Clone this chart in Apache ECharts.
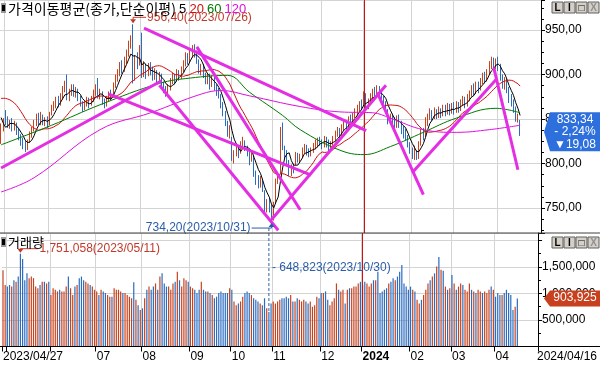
<!DOCTYPE html>
<html>
<head>
<meta charset="utf-8">
<script src="https://cdn.jsdelivr.net/npm/echarts@6.0.0/dist/echarts.min.js"></script>
<style>
html, body { margin: 0; padding: 0; background: #fff; }
#chart { width: 600px; height: 366px; }
</style>
</head>
<body>
<div id="chart"></div>
<script>
// 거래일 달력
const startDate = '2023-04-27';
const endDate = '2024-04-16';
const holidays = ['2023-05-01','2023-05-05','2023-05-29','2023-06-06','2023-08-15','2023-09-28','2023-09-29',
  '2023-10-02','2023-10-03','2023-10-09','2023-12-25','2023-12-29','2024-01-01','2024-02-09','2024-02-12',
  '2024-03-01','2024-04-10'];
const padBars = 9; // 오른쪽 여백 (빈 봉)

// 일봉 [시가, 종가, 저가, 고가]
const apr23 = [[826,840,822,845],[842,846,836,851]];
const may23 = [[856,848,843,860],[850,845,840,853],[842,846,839,849],[848,840,836,851],[841,844,837,848],
  [843,836,832,846],[837,830,826,840],[829,826,820,833],[825,821,816,829],[822,817,813,826],[818,824,815,827],
  [826,832,823,836],[831,838,829,841],[839,845,836,849],[846,850,842,856],[851,847,843,857],[846,852,843,858],
  [851,846,843,855],[847,848,842,852],[849,843,840,853]];
const jun23 = [[845,856,843,858],[858,862,854,866],[863,866,859,870],[866,872,862,875],[871,868,863,876],
  [868,875,865,879],[876,883,872,887],[885,888,880,893],[897,874,871,900],[875,880,870,884],[881,886,876,889],
  [886,879,875,889],[879,882,874,886],[881,874,870,884],[873,868,864,876],[866,862,858,870],[863,867,860,871],
  [868,872,864,875],[871,866,862,874],[867,872,865,876],[873,878,869,883]];
const jul23 = [[880,885,876,889],[893,876,873,896],[877,880,872,884],[878,870,866,881],[869,866,862,873],
  [867,872,864,876],[873,878,869,881],[879,875,871,883],[877,888,874,891],[889,896,885,900],[897,902,892,906],
  [903,910,898,914],[911,906,901,916],[907,915,903,920],[916,922,912,928],[924,932,920,938],[934,940,929,944],
  [942,895,890,956.4],[897,916,893,922],[918,912,906,925],[913,928,910,933]];
const aug23 = [[944,902,896,947],[903,910,897,915],[908,900,895,912],[902,908,898,913],[909,904,899,914],
  [905,898,893,909],[899,903,894,907],[902,895,890,905],[896,899,891,903],[898,890,886,901],[889,884,879,892],
  [883,880,875,887],[881,885,876,889],[886,892,882,896],[893,898,889,902],[897,894,889,901],[895,902,892,906],
  [901,897,893,905],[898,905,895,909],[906,912,902,916],[913,920,909,925],[919,916,911,924]];
const sep23 = [[917,923,913,928],[924,928,919,933],[929,925,919,934],[924,916,912,927],[915,905,901,917],
  [904,908,899,912],[909,900,896,912],[899,893,889,902],[894,897,889,901],[898,890,883,901],[891,895,886,899],
  [894,886,882,897],[885,880,876,889],[881,877,873,885],[875,866,862,878],[866,858,853,869],[856,846,842,859],
  [845,835,830,848],[836,840,828,843]];
const oct23 = [[828,806,803,830],[805,810,800,815],[812,818,808,821],[815,812,806,820],[814,822,811,825],
  [824,826,819,830],[823,818,814,826],[817,812,808,820],[813,805,798,816],[806,810,802,813],[807,790,785,809],
  [789,784,776,792],[783,777,772,787],[776,782,773,786],[780,772,768,783],[768,748,744,770],[750,756,745,760],
  [757,752,745,762],[750,742,734.2,754]];
const nov23 = [[740,753,736,757],[756,781,755,783],[783,784,777,788],[790,839,788,841],[842,818,815,846],
  [816,811,806,820],[812,803,798,815],[801,789,786,804],[790,795,786,799],[796,793,789,800],[800,810,798,813],
  [809,805,801,812],[806,808,801,811],[809,815,806,818],[816,819,812,822],[818,813,809,821],[814,811,807,817],
  [812,815,808,818],[816,820,812,823],[821,824,816,827],[823,826,818,829],[827,825,820,830]];
const dec23 = [[824,820,816,827],[822,828,818,831],[827,823,818,830],[824,818,814,827],[817,822,813,825],
  [823,828,820,831],[829,833,825,837],[834,838,830,841],[836,832,828,840],[834,840,831,844],[841,846,837,850],
  [846,843,838,849],[844,850,840,853],[851,848,843,855],[847,854,844,857],[854,858,851,862],[858,862,854,866],
  [862,866,858,870],[867,866,860,872]];
const jan24 = [[868,878,865,881],[876,866,862,879],[865,870,861,873],[871,876,867,879],[877,880,872,884],
  [881,878,873,886],[879,884,875,888],[883,880,874,887],[879,872,868,882],[873,868,864,876],[867,860,856,870],
  [858,848,844,861],[849,852,844,856],[853,846,841,856],[848,844,838,852],[845,850,840,854],[851,846,840,855],
  [845,838,833,848],[839,835,828,842],[836,830,826,839],[829,822,818,832],[821,815,811,824]];
const feb24 = [[814,810,805,818],[809,812,804,820],[811,808,804,815],[808,822,805,825],[823,836,820,839],
  [835,833,826,840],[832,848,830,852],[847,852,842,856],[853,857,849,862],[856,853,848,860],[854,859,850,863],
  [858,855,850,861],[856,860,851,864],[859,856,851,862],[857,862,853,866],[862,858,853,866],[859,862,855,868],
  [863,859,854,867],[860,864,856,868]];
const mar24 = [[865,860,855,869],[861,866,857,870],[865,862,857,869],[863,868,859,872],[869,872,865,876],
  [871,866,862,875],[867,874,864,878],[875,878,870,882],[879,884,875,888],[885,880,876,890],[881,888,878,892],
  [887,884,879,892],[885,892,882,896],[893,898,889,902],[899,895,890,903],[896,903,892,906],[904,910,900,915],
  [911,915,906,920],[914,910,905,919],[911,914,906,918]];
const apr24 = [[915,910,904,920],[909,898,893,912],[897,889,884,900],[888,893,883,897],[892,884,879,895],
  [883,874,868,886],[875,870,864,878],[869,862,857,872],[861,852,847,864],[850,852.42,846,856],[848,833.34,831,849]];

// 이평 계산용 직전 종가 (19일)
const priorCloses = [845,850,858,866,872,880,890,895,900,898,902,895,890,885,880,878,870,840,830];

// 60일, 120일 이평 (차트에서 읽은 값: [봉 번호, 값])
const ma60Points = [[0,821],[23,843],[45,866],[72,890],[86,896],[103,899],[113,880],[128,854],[136,838],
  [154,815],[165,810],[177,819],[192,835],[207,851],[225,862],[236,857]];
const ma120Points = [[0,768],[15,784],[45,838],[68,857],[91,878],[100,882],[113,876],[136,864],[154,858],
  [169,857],[177,851],[192,838],[207,835],[222,838],[236,843]];

// 거래량 (천주)
const volumes = [1440,1160,1130,1160,1130,1250,1220,1320,1751.058,1650,
  1250,1380,1290,1320,1290,1130,1100,1160,1220,1220, 1190,1220,970,1100,1070,1040,1070,1040,1040,1130,
  1320,1100,970,1130,1160,1290,1320,1250,1220,1190, 1160,1130,1070,1040,970,1070,1040,1010,970,940,
  940,1100,1070,1070,1040,1010,1010,970,940,910, 1210,880,780,690,720,910,1070,1130,1070,1130,
  1190,1070,1320,1380,1190,1130,1130,1070,1190,1220, 1410,1250,1130,1290,1250,1220,1130,1100,1070,1010,
  1070,1220,1070,1040,1040,1010,970,910,940,1010, 1040,1010,1010,1010,1100,1070,850,780,810,850,
  940,1010,1040,1010,970,910,880,850,810,780, 910,720,648.823,810,850,810,850,880,910,910,
  940,910,970,850,850,910,880,850,880,850, 810,850,750,780,940,910,1010,1010,1040,880,
  780,850,910,1190,1070,1040,1070,810,1070,1100, 1100,1130,1130,1190,1220,1160,1220,1190,1130,1190,
  1250,1250,1410,1010,1040,1070,1100,1190,1220,1290, 1250,1320,1410,1540,1190,1130,1070,1130,1070,1040,
  880,810,880,970,1070,1190,1250,1320,1380,1510, 1690,1450,1430,1130,1070,1100,1350,1190,1070,1130,
  1190,1160,1070,1040,1190,1070,1040,1010,1070,1040, 1010,1040,1010,1070,1130,1070,940,1010,970,970,
  1010,1070,1010,970,690,750,903.925];

// 추세선 [[봉 번호, 값], [봉 번호, 값]]
const trendLines = [
  [[0,795],[73,893]],
  [[65,952],[166,837]],
  [[49,878],[141,787]],
  [[89,931],[136,748]],
  [[72,888],[126,725]],
  [[123,737],[175,888]],
  [[171,880],[192,765]],
  [[187,790],[225,894]],
  [[224,908],[235,793]]
];

const prevClose = 852.42;

// ---- 준비 ----
const dates = [];
(function () {
  const d = new Date(startDate + 'T00:00:00Z');
  const end = new Date(endDate + 'T00:00:00Z');
  while (d <= end) {
    const s = d.toISOString().slice(0, 10);
    const wd = d.getUTCDay();
    if (wd !== 0 && wd !== 6 && holidays.indexOf(s) < 0) dates.push(s);
    d.setUTCDate(d.getUTCDate() + 1);
  }
})();
const candles = [].concat(apr23, may23, jun23, jul23, aug23, sep23, oct23, nov23, dec23, jan24, feb24, mar24, apr24);
const categories = dates.concat(Array.from({ length: padBars }, (_, i) => 'pad' + i));
const closes = candles.map(c => c[1]);

const monthStarts = new Set();
dates.forEach((d, i) => { if (i > 0 && d.slice(5, 7) !== dates[i - 1].slice(5, 7)) monthStarts.add(i); });
const yearStart = dates.findIndex(d => d.startsWith('2024'));

function movingAvg(n) {
  const all = priorCloses.concat(closes);
  const off = priorCloses.length;
  return closes.map((_, i) => {
    let s = 0;
    for (let k = i + off - n + 1; k <= i + off; k++) s += all[k];
    return +(s / n).toFixed(2);
  });
}

const UP = '#c8421c', DOWN = '#2b6cc0', PINK = '#e32ee3';
const FONT = '"Liberation Sans", Arial, sans-serif';
const KFONT = '"Noto Sans CJK KR", sans-serif';
const fmtPrice = v => v.toFixed(2).replace('.', ',');
const fmtVol = v => Math.round(v).toLocaleString('en-US');

const chart = echarts.init(document.getElementById('chart'));

const option = {
  animation: false,
  backgroundColor: '#fff',
  grid: [
    { left: 0, right: 59, top: 0, height: 233 },
    { left: 0, right: 59, top: 233, height: 113.5 }
  ],
  xAxis: [
    {
      type: 'category', gridIndex: 0, data: categories, boundaryGap: true,
      axisLine: { show: false }, axisTick: { show: false }, axisLabel: { show: false },
      splitLine: { show: true, interval: i => monthStarts.has(i), lineStyle: { color: '#d4d4d4' } }
    },
    {
      type: 'category', gridIndex: 1, data: categories, boundaryGap: true,
      axisLine: { show: true, lineStyle: { color: '#000' } },
      axisTick: { show: true, interval: i => monthStarts.has(i) || i === 0, length: 5, lineStyle: { color: '#000' } },
      splitLine: { show: true, interval: i => monthStarts.has(i), lineStyle: { color: '#d4d4d4' } },
      axisLabel: {
        interval: i => i === 0 || i === categories.length - 1 || (monthStarts.has(i) && i > 30),
        align: 'left', margin: 4, fontFamily: FONT, fontSize: 12, color: '#000',
        formatter: (v, i) => {
          if (i === 0) return v.replace(/-/g, '/');
          if (i === categories.length - 1) return endDate.replace(/-/g, '/');
          if (v.slice(5, 7) === '01') return '{b|' + v.slice(0, 4) + '}';
          return v.slice(5, 7);
        },
        rich: { b: { fontWeight: 'bold', fontFamily: FONT, fontSize: 12, color: '#000' } }
      }
    }
  ],
  yAxis: [
    {
      type: 'value', gridIndex: 0, position: 'right', min: 721.91, max: 983.71, splitNumber: 5,
      axisLine: { show: true, lineStyle: { color: '#000' } },
      axisTick: { show: true, length: 4, lineStyle: { color: '#000' } },
      minorTick: { show: true, splitNumber: 4, length: 3, lineStyle: { color: '#000' } },
      splitLine: { show: true, lineStyle: { color: '#d4d4d4' } },
      axisLabel: { showMinLabel: false, showMaxLabel: false, margin: 4, fontFamily: FONT, fontSize: 12, color: '#000', formatter: fmtPrice }
    },
    {
      type: 'value', gridIndex: 1, position: 'right', min: 0, max: 2141500, splitNumber: 5,
      axisLine: { show: true, lineStyle: { color: '#000' } },
      axisTick: { show: true, length: 4, lineStyle: { color: '#000' } },
      minorTick: { show: true, splitNumber: 2, length: 3, lineStyle: { color: '#000' } },
      splitLine: { show: true, lineStyle: { color: '#d4d4d4' } },
      axisLabel: {
        showMinLabel: false, showMaxLabel: false, margin: 4, fontFamily: FONT, fontSize: 12, color: '#000',
        formatter: v => (v === 0 || v >= 2000000) ? '' : fmtVol(v)
      }
    }
  ],
  series: [
    {
      type: 'candlestick', xAxisIndex: 0, yAxisIndex: 0, data: candles, barWidth: 1.2, z: 2,
      itemStyle: { color: UP, color0: DOWN, borderColor: UP, borderColor0: DOWN, borderWidth: 1 },
      markLine: {
        silent: true, symbol: 'none', label: { show: false },
        lineStyle: { color: '#d01010', type: 'solid', width: 1 },
        data: [{ xAxis: dates[yearStart] }]
      }
    },
    { type: 'line', xAxisIndex: 0, yAxisIndex: 0, data: movingAvg(5), showSymbol: false, z: 3,
      lineStyle: { color: '#000', width: 1 } },
    { type: 'line', xAxisIndex: 0, yAxisIndex: 0, data: movingAvg(20), showSymbol: false, z: 3,
      lineStyle: { color: '#d01010', width: 1 } },
    { type: 'line', xAxisIndex: 0, yAxisIndex: 0, data: ma60Points, showSymbol: false, smooth: 0.4, z: 3,
      lineStyle: { color: '#007a00', width: 1 } },
    { type: 'line', xAxisIndex: 0, yAxisIndex: 0, data: ma120Points, showSymbol: false, smooth: 0.4, z: 3,
      lineStyle: { color: '#e010e0', width: 1 } }
  ].concat(trendLines.map(t => ({
    type: 'line', xAxisIndex: 0, yAxisIndex: 0, data: t, showSymbol: false, z: 5, silent: true,
    lineStyle: { color: PINK, width: 3 }
  }))).concat([
    {
      type: 'bar', xAxisIndex: 1, yAxisIndex: 1, barWidth: 1.2, z: 2,
      data: volumes.map((v, i) => ({
        value: v * 1000,
        itemStyle: { color: candles[i][1] >= candles[i][0] ? UP : DOWN }
      })),
      markLine: {
        silent: true, symbol: 'none', label: { show: false },
        lineStyle: { color: '#d01010', type: 'solid', width: 1 },
        data: [{ xAxis: dates[yearStart] }]
      }
    }
  ])
};

chart.setOption(option);

// ---- 주석 / 장식 ----
function px(i, v, g) { return chart.convertToPixel({ xAxisIndex: g, yAxisIndex: g }, [i, v]); }

function argMax(arr) { return arr.reduce((b, v, i) => v > arr[b] ? i : b, 0); }
function argMin(arr) { return arr.reduce((b, v, i) => v < arr[b] ? i : b, 0); }

const hiIdx = argMax(candles.map(c => c[3]));
const loIdx = argMin(candles.map(c => c[2]));
const vHiIdx = argMax(volumes);
const vLoIdx = argMin(volumes);
const lastIdx = candles.length - 1;
const lastClose = closes[lastIdx];
const chg = lastClose - prevClose;

const hiP = px(hiIdx, candles[hiIdx][3], 0);
const loP = px(loIdx, candles[loIdx][2], 0);
const vHiP = px(vHiIdx, volumes[vHiIdx] * 1000, 1);
const vLoP = px(vLoIdx, volumes[vLoIdx] * 1000, 1);
const lastP = px(lastIdx, lastClose, 0);
const lastV = px(lastIdx, volumes[lastIdx] * 1000, 1);

const RED_T = '#c0392b', BLUE_T = '#2a5ea8';
const g = [];

function arrow(x, y, dir, color) { // dir: 1 아래, -1 위
  return { type: 'polygon', shape: { points: [[x - 3, y - 4 * dir], [x + 3, y - 4 * dir], [x, y]] }, style: { fill: color }, z: 20 };
}
function label(text, x, y, color, align) {
  return { type: 'text', x: x, y: y, z: 20, style: { text: text, fill: color, font: '12px ' + FONT, align: align || 'left', verticalAlign: 'middle' } };
}

// 최고가
const hy = hiP[1] - 7;
g.push({ type: 'polyline', shape: { points: [[hiP[0] + 13, hy], [hiP[0], hy], [hiP[0], hiP[1] - 2]] }, style: { stroke: RED_T, lineWidth: 1 }, z: 20 });
g.push(arrow(hiP[0], hiP[1] - 1, 1, RED_T));
g.push(label(fmtPrice(candles[hiIdx][3]) + '(' + dates[hiIdx].replace(/-/g, '/') + ')', hiP[0] + 14, hy, RED_T));

// 최저가
const ly = loP[1] + 6;
g.push({ type: 'polyline', shape: { points: [[loP[0] - 20, ly], [loP[0], ly], [loP[0], loP[1] + 2]] }, style: { stroke: BLUE_T, lineWidth: 1 }, z: 20 });
g.push(arrow(loP[0], loP[1] + 1, -1, BLUE_T));
g.push(label(fmtPrice(candles[loIdx][2]) + '(' + dates[loIdx].replace(/-/g, '/') + ')', loP[0] - 21, ly, BLUE_T, 'right'));

// 최대 거래량
const vy = vHiP[1] - 5;
g.push({ type: 'polyline', shape: { points: [[vHiP[0] + 18, vy], [vHiP[0], vy], [vHiP[0], vHiP[1] - 2]] }, style: { stroke: RED_T, lineWidth: 1 }, z: 20 });
g.push(arrow(vHiP[0], vHiP[1] - 1, 1, RED_T));
g.push(label(fmtVol(volumes[vHiIdx] * 1000) + '(' + dates[vHiIdx].replace(/-/g, '/') + ')', vHiP[0] + 19, vy, RED_T));

// 최소 거래량
g.push({ type: 'line', shape: { x1: vLoP[0], y1: ly, x2: vLoP[0], y2: vLoP[1] }, style: { stroke: BLUE_T, lineWidth: 1, lineDash: [3, 2] }, z: 20 });
g.push(label('- ' + fmtVol(volumes[vLoIdx] * 1000) + '(' + dates[vLoIdx].replace(/-/g, '/') + ')', vLoP[0] + 3, 268, BLUE_T));

// 패널 경계선
g.push({ type: 'line', shape: { x1: 0, y1: 233, x2: 600, y2: 233 }, style: { stroke: '#404040', lineWidth: 1 }, z: 30 });
g.push({ type: 'line', shape: { x1: 0, y1: 346.5, x2: 600, y2: 346.5 }, style: { stroke: '#000', lineWidth: 1 }, z: 30 });

// 현재가 박스
function tagBox(yc, h, color, lines) {
  const top = yc - h / 2, bot = yc + h / 2;
  const items = [{ type: 'polygon', shape: { points: [[544, yc], [550, top], [600, top], [600, bot], [550, bot]] }, style: { fill: color }, z: 40 }];
  lines.forEach((t, k) => items.push({ type: 'text', x: 575, y: top + 7 + k * 12.5, z: 41,
    style: { text: t, fill: '#fff', font: '12px ' + FONT, align: 'center', verticalAlign: 'middle' } }));
  return items;
}
g.push(...tagBox(lastP[1] - 2, 39, '#2d6fdc', [fmtPrice(lastClose), '- ' + fmtPrice(Math.abs(chg / prevClose * 100)) + '%', '▼' + fmtPrice(Math.abs(chg))]));
g.push(...tagBox(lastV[1], 16, '#c8401e', [fmtVol(volumes[lastIdx] * 1000)]));

// 헤더
function icon(y) {
  return [{ type: 'rect', shape: { x: 1, y: y, width: 5, height: 10 }, style: { fill: '#9a9a9a' }, z: 30 },
          { type: 'rect', shape: { x: 2, y: y + 2, width: 3, height: 6 }, style: { fill: '#000' }, z: 31 }];
}
g.push(...icon(3), ...icon(237));
g.push({ type: 'text', x: 8, y: 9, z: 30, style: {
  text: '가격이동평균(종가,단순이평) {k|5} {r|20} {g|60} {m|120}', font: '14px ' + KFONT, fill: '#000', verticalAlign: 'middle',
  rich: { k: { fill: '#000', font: '13px ' + FONT }, r: { fill: '#d01010', font: '13px ' + FONT },
          g: { fill: '#007a00', font: '13px ' + FONT }, m: { fill: '#e010e0', font: '13px ' + FONT } } } });
g.push({ type: 'text', x: 8, y: 242, z: 30, style: { text: '거래량', font: '13px ' + KFONT, fill: '#000', verticalAlign: 'middle' } });

// 창 버튼
function buttons(y) {
  const labels = ['L', 'I', '□', 'X'];
  return labels.flatMap((t, k) => [
    { type: 'rect', shape: { x: 552 + k * 12, y: y, width: 11, height: 11 }, style: { fill: '#d4d0c8', stroke: '#606060', lineWidth: 1 }, z: 40 },
    { type: 'text', x: 557.5 + k * 12, y: y + 6, z: 41, style: { text: t, fill: k === 3 ? '#909090' : '#000', font: 'bold 10px ' + FONT, align: 'center', verticalAlign: 'middle' } }
  ]);
}
g.push(...buttons(2), ...buttons(237));

chart.setOption({ graphic: g });
</script>
</body>
</html>
